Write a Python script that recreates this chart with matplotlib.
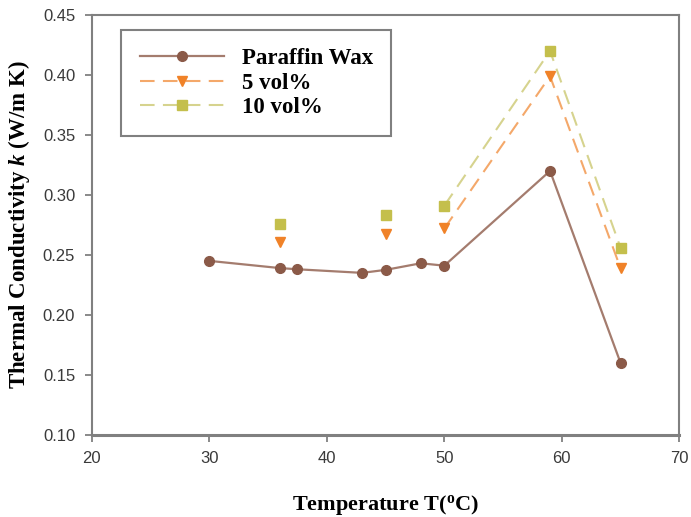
import numpy as np
import matplotlib.pyplot as plt

plt.rcParams['mathtext.fontset'] = 'custom'
plt.rcParams['mathtext.rm'] = 'Liberation Serif'
plt.rcParams['mathtext.it'] = 'Liberation Serif:italic'
plt.rcParams['mathtext.bf'] = 'Liberation Serif:bold'
plt.rcParams['mathtext.bfit'] = 'Liberation Serif:italic:bold'

# Paraffin wax measurements
t_wax = [30, 36, 37.5, 43, 45, 48, 50, 59, 65]
k_wax = [0.245, 0.239, 0.238, 0.235, 0.2375, 0.243, 0.241, 0.320, 0.160]

# Nanocomposite measurements
t_nano = [36, 45, 50, 59, 65]
k_5vol = [0.261, 0.267, 0.272, 0.399, 0.239]
k_10vol = [0.276, 0.283, 0.291, 0.420, 0.256]

fig = plt.figure(figsize=(6.91, 5.17), dpi=100)
ax = fig.add_axes([0.133, 0.159, 0.850, 0.812])

frame = '#808080'
serif = 'Liberation Serif'

# 10 vol% (dashed line only joins the last three points)
l10, = ax.plot(t_nano[2:], k_10vol[2:], color='#d6d38e', lw=1.5, dashes=(7, 4),
               marker='s', ms=6.5, mfc='#c4bf4c', mec='#c4bf4c')
ax.plot(t_nano[:2], k_10vol[:2], ls='none', marker='s', ms=6.5,
        mfc='#c4bf4c', mec='#c4bf4c')

# 5 vol%
l5, = ax.plot(t_nano[2:], k_5vol[2:], color='#f4a86a', lw=1.5, dashes=(7, 4),
              marker='v', ms=7.5, mfc='#f08228', mec='#f08228')
ax.plot(t_nano[:2], k_5vol[:2], ls='none', marker='v', ms=7.5,
        mfc='#f08228', mec='#f08228')

# paraffin wax
lw_, = ax.plot(t_wax, k_wax, color='#a47c6e', lw=1.6, marker='o', ms=7,
               mfc='#8b5a48', mec='#8b5a48')

ax.set_xlim(20, 70)
ax.set_ylim(0.10, 0.45)
ax.set_xticks(np.arange(20, 71, 10))
ax.set_yticks(np.arange(0.10, 0.451, 0.05))
ax.set_yticklabels([f'{v:.2f}' for v in np.arange(0.10, 0.451, 0.05)])

for s in ax.spines.values():
    s.set_color(frame)
    s.set_linewidth(1.5)
ax.spines['bottom'].set_linewidth(2.2)
ax.tick_params(direction='out', length=5, width=1.3, color=frame,
               labelsize=12, labelcolor='#3a3a3a', pad=7)
for lab in ax.get_xticklabels() + ax.get_yticklabels():
    lab.set_family('Liberation Sans')

ax.set_xlabel(r'Temperature T($\mathbf{^o}$C)', fontsize=16, fontweight='bold',
              family=serif, labelpad=19)
ax.set_ylabel(r'Thermal Conductivity $\mathbfit{k}$ (W/m K)', fontsize=16.5,
              fontweight='bold', family=serif, labelpad=8)

leg = ax.legend([lw_, l5, l10], ['Paraffin Wax', '5 vol%', '10 vol%'],
                loc='upper left', bbox_to_anchor=(0.05, 0.965),
                prop={'family': serif, 'weight': 'bold', 'size': 16.5},
                fancybox=False, framealpha=1, edgecolor=frame,
                handlelength=3.7, handletextpad=0.75, borderpad=0.8,
                labelspacing=0.15, borderaxespad=0)
leg.get_frame().set_linewidth(1.5)

fig.savefig('out.png', dpi=100)
